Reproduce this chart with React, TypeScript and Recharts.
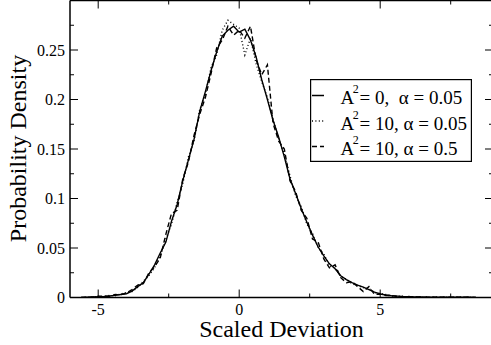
import React from 'react';
import { LineChart, Line, XAxis, YAxis, Legend, Label } from 'recharts';

const FONT = "'Liberation Serif', 'Times New Roman', Times, serif";

// Scaled deviation (x) grid
const xValues = [
  -5.6, -5.4, -5.2, -5.0, -4.8, -4.6, -4.4, -4.2, -4.0, -3.8,
  -3.6, -3.4, -3.2, -3.0, -2.8, -2.6, -2.4, -2.2, -2.0, -1.8,
  -1.6, -1.4, -1.2, -1.0, -0.8, -0.6, -0.4, -0.2, 0.0, 0.2,
  0.4, 0.6, 0.8, 1.0, 1.2, 1.4, 1.6, 1.8, 2.0, 2.2,
  2.4, 2.6, 2.8, 3.0, 3.2, 3.4, 3.6, 3.8, 4.0, 4.2,
  4.4, 4.6, 4.8, 5.0, 5.2, 5.4, 5.6, 5.8, 6.0, 6.2,
  6.4, 6.6, 6.8, 7.0, 7.2, 7.4, 7.6, 7.8, 8.0, 8.2,
  8.4,
];

// A^2 = 0, alpha = 0.05 (solid)
const solidSeries = [
  0.0000, 0.0003, 0.0005, 0.0008, 0.0010, 0.0015, 0.0022, 0.0030, 0.0038, 0.0065,
  0.0110, 0.0150, 0.0235, 0.0330, 0.0450, 0.0560, 0.0770, 0.0940, 0.1180, 0.1390,
  0.1600, 0.1880, 0.2080, 0.2290, 0.2480, 0.2640, 0.2700, 0.2740, 0.2680, 0.2710,
  0.2600, 0.2430, 0.2200, 0.2000, 0.1790, 0.1620, 0.1420, 0.1200, 0.1050, 0.0900,
  0.0760, 0.0630, 0.0510, 0.0420, 0.0340, 0.0290, 0.0220, 0.0180, 0.0150, 0.0125,
  0.0105, 0.0080, 0.0055, 0.0035, 0.0025, 0.0018, 0.0014, 0.0010, 0.0008, 0.0006,
  0.0005, 0.0004, 0.0004, 0.0003, 0.0003, 0.0003, 0.0002, 0.0003, 0.0002, 0.0002,
  0.0001,
];

// A^2 = 10, alpha = 0.05 (dotted)
const dottedSeries = [
  0.0000, 0.0000, 0.0006, 0.0010, 0.0008, 0.0020, 0.0018, 0.0035, 0.0050, 0.0060,
  0.0100, 0.0165, 0.0220, 0.0300, 0.0420, 0.0590, 0.0740, 0.0960, 0.1150, 0.1420,
  0.1580, 0.1900, 0.2050, 0.2320, 0.2450, 0.2700, 0.2800, 0.2760, 0.2720, 0.2450,
  0.2620, 0.2360, 0.2180, 0.2020, 0.1800, 0.1600, 0.1450, 0.1230, 0.1030, 0.0920,
  0.0740, 0.0650, 0.0500, 0.0440, 0.0320, 0.0300, 0.0210, 0.0185, 0.0140, 0.0120,
  0.0100, 0.0090, 0.0050, 0.0040, 0.0030, 0.0015, 0.0012, 0.0012, 0.0006, 0.0008,
  0.0004, 0.0005, 0.0003, 0.0004, 0.0002, 0.0003, 0.0004, 0.0002, 0.0003, 0.0001,
  0.0001,
];

// A^2 = 10, alpha = 0.5 (dashed)
const dashedSeries = [
  0.0000, 0.0004, 0.0003, 0.0012, 0.0014, 0.0012, 0.0030, 0.0028, 0.0045, 0.0080,
  0.0125, 0.0140, 0.0250, 0.0310, 0.0400, 0.0640, 0.0850, 0.0880, 0.1200, 0.1370,
  0.1640, 0.1850, 0.2020, 0.2260, 0.2520, 0.2600, 0.2740, 0.2650, 0.2700, 0.2620,
  0.2740, 0.2400, 0.2250, 0.2350, 0.1760, 0.1580, 0.1500, 0.1180, 0.1070, 0.0880,
  0.0800, 0.0590, 0.0560, 0.0390, 0.0300, 0.0330, 0.0200, 0.0150, 0.0160, 0.0110,
  0.0060, 0.0110, 0.0030, 0.0035, 0.0020, 0.0020, 0.0010, 0.0008, 0.0010, 0.0005,
  0.0006, 0.0003, 0.0004, 0.0003, 0.0004, 0.0002, 0.0003, 0.0003, 0.0002, 0.0002,
  0.0001,
];

const xTicks = [-5, -2.5, 0, 2.5, 5, 7.5];
const xMajorTicks = [-5, 0, 5];
const yTicks = [0, 0.025, 0.05, 0.075, 0.1, 0.125, 0.15, 0.175, 0.2, 0.225, 0.25, 0.275];
const yMajorTicks = [0, 0.05, 0.1, 0.15, 0.2, 0.25];

const seriesKeys = ['s', 'd', 'h'];
const seriesA2 = ['0', '10', '10'];
const seriesSep = [',  ', ', ', ', '];
const seriesAlpha = ['0.05', '0.05', '0.5'];
const seriesDash = [undefined, '1 2.4', '5 3'];

const xAxisTitle = 'Scaled Deviation';
const yAxisTitle = 'Probability Density';

const data = xValues.map((x, i) => ({
  x,
  s: solidSeries[i],
  d: dottedSeries[i],
  h: dashedSeries[i],
}));

const isMajor = (list: number[], v: number) => list.some((m) => Math.abs(m - v) < 1e-9);

const txt = (size: number): React.CSSProperties => ({ fontFamily: FONT, fontSize: size, fill: '#000', whiteSpace: 'pre' });

const BottomTick = (props: any) => {
  const { x, y, payload } = props;
  const major = isMajor(xMajorTicks, payload.value);
  return (
    <g>
      <line x1={x} y1={y} x2={x} y2={y - (major ? 8 : 4)} stroke="#000" strokeWidth={1} />
      {major && (
        <text x={x} y={y + 17} textAnchor="middle" style={txt(16)}>
          {String(payload.value)}
        </text>
      )}
    </g>
  );
};

const TopTick = (props: any) => {
  const { x, y, payload } = props;
  const major = isMajor(xMajorTicks, payload.value);
  return <line x1={x} y1={y} x2={x} y2={y + (major ? 8 : 4)} stroke="#000" strokeWidth={1} />;
};

const LeftTick = (props: any) => {
  const { x, y, payload } = props;
  const major = isMajor(yMajorTicks, payload.value);
  return (
    <g>
      <line x1={x} y1={y} x2={x + (major ? 8 : 4)} y2={y} stroke="#000" strokeWidth={1} />
      {major && (
        <text x={x - 5} y={y + 5.5} textAnchor="end" style={txt(16)}>
          {String(payload.value)}
        </text>
      )}
    </g>
  );
};

const RightTick = (props: any) => {
  const { x, y, payload } = props;
  const major = isMajor(yMajorTicks, payload.value);
  return <line x1={x} y1={y} x2={x - (major ? 8 : 4)} y2={y} stroke="#000" strokeWidth={1} />;
};

const LegendBox = () => (
  <svg width={162} height={83} style={{ display: 'block' }}>
    <rect x={0.6} y={0.6} width={160.8} height={81.8} fill="#fff" stroke="#000" strokeWidth={1.2} />
    {seriesKeys.map((k, i) => {
      const base = 25 + i * 25.5;
      return (
        <g key={k}>
          <line x1={2} x2={14} y1={base - 8.5} y2={base - 8.5} stroke="#000" strokeWidth={1.5}
            strokeDasharray={seriesDash[i]} />
          <text x={30.5} y={base} style={txt(19)}>
            A
            <tspan dx={-1.5} dy={-11} style={txt(12)}>2</tspan>
            <tspan x={49.5} y={base}>{`= ${seriesA2[i]}${seriesSep[i]}\u03b1 = ${seriesAlpha[i]}`}</tspan>
          </text>
        </g>
      );
    })}
  </svg>
);

export default function App() {
  return (
    <div style={{ position: 'absolute', left: 0, top: 0, width: 491, height: 345, overflow: 'hidden', background: '#fff' }}>
      <LineChart width={500} height={345} data={data} margin={{ top: 0, left: 69, right: 6, bottom: 46.5 }}>
        <XAxis xAxisId="bottom" type="number" dataKey="x" domain={[-6, 9]} allowDataOverflow ticks={xTicks}
          interval={0} tick={BottomTick} tickLine={false} tickSize={0} tickMargin={0} height={1}
          axisLine={{ stroke: '#000', strokeWidth: 1.5 }}>
          <Label content={() => (
            <text x={281.5} y={337} textAnchor="middle" style={txt(24)}>{xAxisTitle}</text>
          )} />
        </XAxis>
        <XAxis xAxisId="top" orientation="top" type="number" dataKey="x" domain={[-6, 9]} allowDataOverflow ticks={xTicks}
          interval={0} tick={TopTick} tickLine={false} tickSize={0} tickMargin={0} height={0.5}
          axisLine={{ stroke: '#000', strokeWidth: 1.5 }} />
        <YAxis yAxisId="left" type="number" domain={[0, 0.3]} allowDataOverflow ticks={yTicks} interval={0}
          tick={LeftTick} tickLine={false} tickSize={0} tickMargin={0} width={1}
          axisLine={{ stroke: '#000', strokeWidth: 1.5 }}>
          <Label content={() => (
            <text transform="translate(26,148.5) rotate(-90)" textAnchor="middle" style={txt(24)}>{yAxisTitle}</text>
          )} />
        </YAxis>
        <YAxis yAxisId="right" orientation="right" type="number" domain={[0, 0.3]} allowDataOverflow ticks={yTicks}
          interval={0} tick={RightTick} tickLine={false} tickSize={0} tickMargin={0} width={1}
          axisLine={{ stroke: '#000', strokeWidth: 1.5 }} />
        {seriesKeys.map((k, i) => (
          <Line key={k} xAxisId="bottom" yAxisId="left" type="linear" dataKey={k} stroke="#000" strokeWidth={1.4}
            strokeDasharray={seriesDash[i]} dot={false} activeDot={false} isAnimationActive={false} />
        ))}
        <Legend layout="vertical" align="center" verticalAlign="middle" content={LegendBox}
          wrapperStyle={{ position: 'absolute', left: 310, top: 79, width: 162, height: 83, margin: 0, padding: 0 }} />
      </LineChart>
    </div>
  );
}
